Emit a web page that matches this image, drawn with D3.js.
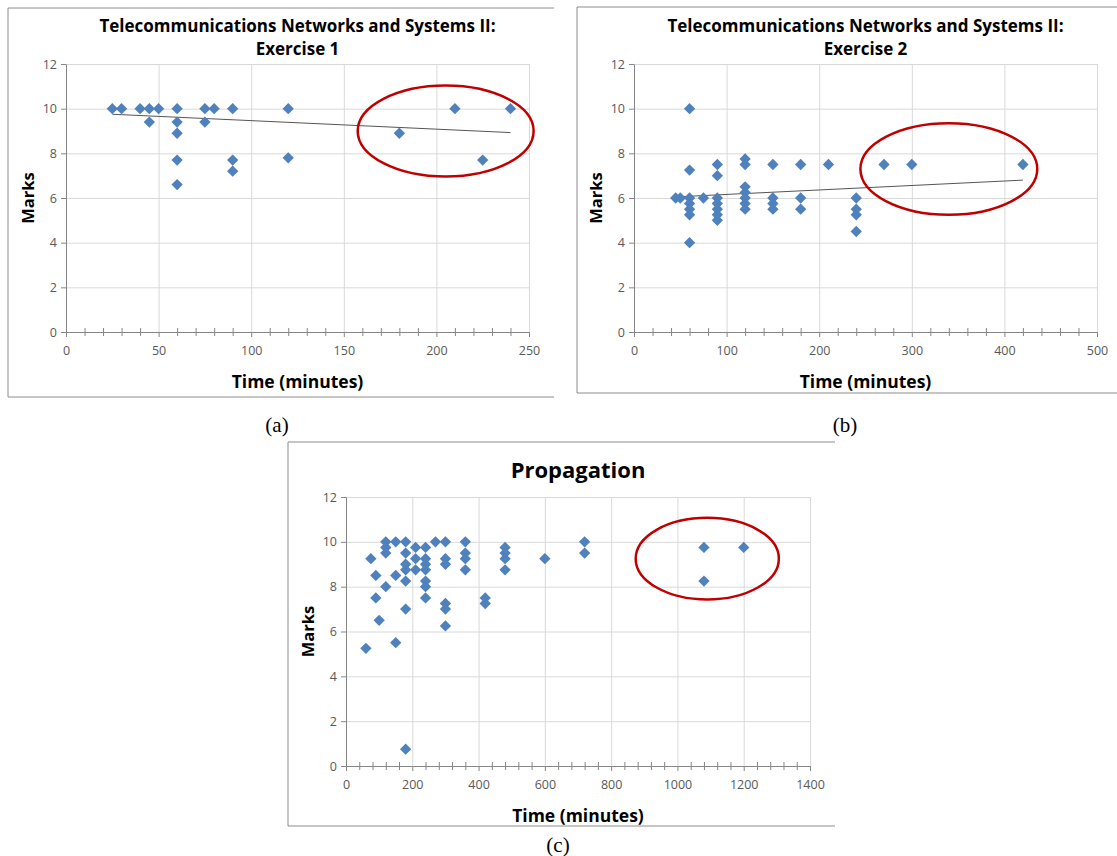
<!DOCTYPE html>
<head>
  <meta charset="utf-8">
  <script src="https://d3js.org/d3.v7.min.js"></script>
  <style>
  *{ margin:0; padding:0; }
  body{ background:#fff; }
  text{ font-family:'Open Sans', sans-serif; }
  .grid line{ stroke:#d9d9d9; }
  .grid path{ display:none; }
  .axis path, .axis line{ stroke:#868686; }
  .axis text{ fill:#595959; font-size:12.5px; font-family:'Open Sans', sans-serif; }
  .bold{ font-weight:700; fill:#000; }
  .cap{ font-family:'Liberation Serif', serif; font-size:21px; fill:#000; }
  </style>
</head>
<body>
  <div id="chart"></div>
  <script>
    // (a) Exercise 1
    let timeA  = [25,30,40,45,45,50,60,60,60,60,60,75,75,80,90,90,90,120,120,180,210,225,240];
    let marksA = [10,10,10,10,9.4,10,10,9.4,8.9,7.7,6.6,10,9.4,10,10,7.7,7.2,10,7.8,8.9,10,7.7,10];
    let trendTimeA  = [25, 240];
    let trendMarksA = [9.75, 8.93];
    let circledA = [205, 9.0, 47.5, 2.04];   // centre time, centre mark, half width, half height

    // (b) Exercise 2
    let timeB  = [45,50,60,60,60,60,60,60,60,75,90,90,90,90,90,90,90,
                  120,120,120,120,120,120,120,150,150,150,150,180,180,180,210,
                  240,240,240,240,270,300,420];
    let marksB = [6,6,10,7.25,6,5.75,5.5,5.25,4,6,7.5,7,6,5.75,5.5,5.25,5,
                  7.75,7.5,6.5,6.25,6,5.75,5.5,7.5,6,5.75,5.5,7.5,6,5.5,7.5,
                  6,5.5,5.25,4.5,7.5,7.5,7.5];
    let trendTimeB  = [45, 420];
    let trendMarksB = [6.05, 6.8];
    let circledB = [340, 7.3, 95.5, 2.05];

    // (c) Propagation
    let timeC  = [60,75,90,90,100,120,120,120,120,150,150,150,
                  180,180,180,180,180,180,180,210,210,210,
                  240,240,240,240,240,240,240,270,
                  300,300,300,300,300,300,360,360,360,360,420,420,
                  480,480,480,480,600,720,720,1080,1080,1200];
    let marksC = [5.25,9.25,8.5,7.5,6.5,10,9.75,9.5,8,10,8.5,5.5,
                  10,9.5,9,8.75,8.25,7,0.75,9.75,9.25,8.75,
                  9.75,9.25,9,8.75,8.25,8,7.5,10,
                  10,9.25,9,7.25,7,6.25,10,9.5,9.25,8.75,7.5,7.25,
                  9.75,9.5,9.25,8.75,9.25,10,9.5,9.75,8.25,9.75];
    let circledC = [1090, 9.25, 216, 1.82];

    let markTicks = [0,2,4,6,8,10,12];

    let svg = d3.select("#chart").append("svg")
      .attr("width", 1117).attr("height", 856);

    let diamond = d3.symbol(d3.symbolSquare, 64);

    function panel(cfg){
      let g = svg.append("g");
      let [x0, x1, yTop, yBot] = cfg.plot;
      let x = d3.scaleLinear().domain([0, cfg.xMax]).range([x0, x1]);
      let y = d3.scaleLinear().domain([0, 12]).range([yBot, yTop]);
      let f = cfg.frame;

      //chart frame, right side open
      g.append("path")
        .attr("d", `M${f[2]},${f[1]}H${f[0]}V${f[3]}H${f[2]}`)
        .attr("fill", "none").attr("stroke", "#8c8c8c");

      let major = d3.range(0, cfg.xMax + 1, cfg.xStep);
      let minor = d3.range(0, cfg.xMax + 1, cfg.xMinor).filter(v => v % cfg.xStep);

      //gridlines
      g.append("g").attr("class", "grid")
        .attr("transform", `translate(${x0},0)`)
        .call(d3.axisLeft(y).tickValues(markTicks.slice(1)).tickSize(-(x1 - x0)).tickFormat(""));
      g.append("g").attr("class", "grid")
        .attr("transform", `translate(0,${yBot})`)
        .call(d3.axisBottom(x).tickValues(major.slice(1)).tickSize(-(yBot - yTop)).tickFormat(""));

      //y axis
      g.append("g").attr("class", "axis")
        .attr("transform", `translate(${x0},0)`)
        .call(d3.axisLeft(y).tickValues(markTicks).tickSize(5).tickSizeOuter(0).tickPadding(4));

      //minor ticks cross the axis
      g.append("g").attr("class", "axis")
        .attr("transform", `translate(0,${yBot - 4})`)
        .call(d3.axisBottom(x).tickValues(minor).tickSize(8).tickFormat(""))
        .select(".domain").remove();

      //x axis
      g.append("g").attr("class", "axis")
        .attr("transform", `translate(0,${yBot})`)
        .call(d3.axisBottom(x).tickValues(major).tickFormat(d3.format("d"))
          .tickSize(5).tickSizeOuter(0).tickPadding(9));

      //trend line
      if (cfg.trendX) {
        g.append("line")
          .attr("x1", x(cfg.trendX[0])).attr("y1", y(cfg.trendY[0]))
          .attr("x2", x(cfg.trendX[1])).attr("y2", y(cfg.trendY[1]))
          .attr("stroke", "#555").attr("stroke-width", 1);
      }

      //points
      g.append("g").selectAll("path")
        .data(cfg.time.map((t, i) => [t, cfg.marks[i]]))
        .join("path")
        .attr("d", diamond)
        .attr("transform", d => `translate(${x(d[0])},${y(d[1])}) rotate(45)`)
        .attr("fill", "#4f81bd");

      //red ring
      let c = cfg.ring;
      g.append("ellipse")
        .attr("cx", x(c[0])).attr("cy", y(c[1]))
        .attr("rx", x(c[0] + c[2]) - x(c[0]))
        .attr("ry", y(c[1] - c[3]) - y(c[1]))
        .attr("fill", "none").attr("stroke", "#c00000").attr("stroke-width", 2.5);

      //titles
      let mid = (x0 + x1) / 2;
      cfg.title.forEach((t, i) => {
        g.append("text").attr("class", "bold")
          .attr("x", mid).attr("y", cfg.titleY + i * 23)
          .attr("text-anchor", "middle")
          .style("font-size", cfg.titleSize + "px")
          .text(t);
      });
      g.append("text").attr("class", "bold")
        .attr("x", mid).attr("y", yBot + 56)
        .attr("text-anchor", "middle").style("font-size", "17.5px")
        .text("Time (minutes)");
      g.append("text").attr("class", "bold")
        .attr("transform", `translate(${x0 - 32},${(yTop + yBot) / 2}) rotate(-90)`)
        .attr("text-anchor", "middle").style("font-size", "16.5px")
        .text("Marks");

      //caption
      svg.append("text").attr("class", "cap")
        .attr("x", cfg.cap[0]).attr("y", cfg.cap[1])
        .attr("text-anchor", "middle")
        .text(cfg.capText);
    }

    panel({
      plot: [66, 529, 64, 332], frame: [8, 8, 554, 397],
      xMax: 250, xStep: 50, xMinor: 10,
      time: timeA, marks: marksA, trendX: trendTimeA, trendY: trendMarksA, ring: circledA,
      title: ["Telecommunications Networks and Systems II:", "Exercise 1"], titleY: 32, titleSize: 17,
      cap: [277, 432], capText: "(a)"
    });

    panel({
      plot: [634, 1097, 64, 332], frame: [577, 7, 1117, 393],
      xMax: 500, xStep: 100, xMinor: 20,
      time: timeB, marks: marksB, trendX: trendTimeB, trendY: trendMarksB, ring: circledB,
      title: ["Telecommunications Networks and Systems II:", "Exercise 2"], titleY: 32, titleSize: 17,
      cap: [845, 432], capText: "(b)"
    });

    panel({
      plot: [346, 810, 497, 766], frame: [288, 442, 835, 826],
      xMax: 1400, xStep: 200, xMinor: 40,
      time: timeC, marks: marksC, ring: circledC,
      title: ["Propagation"], titleY: 478, titleSize: 22,
      cap: [558, 852], capText: "(c)"
    });
  </script>
</body>
